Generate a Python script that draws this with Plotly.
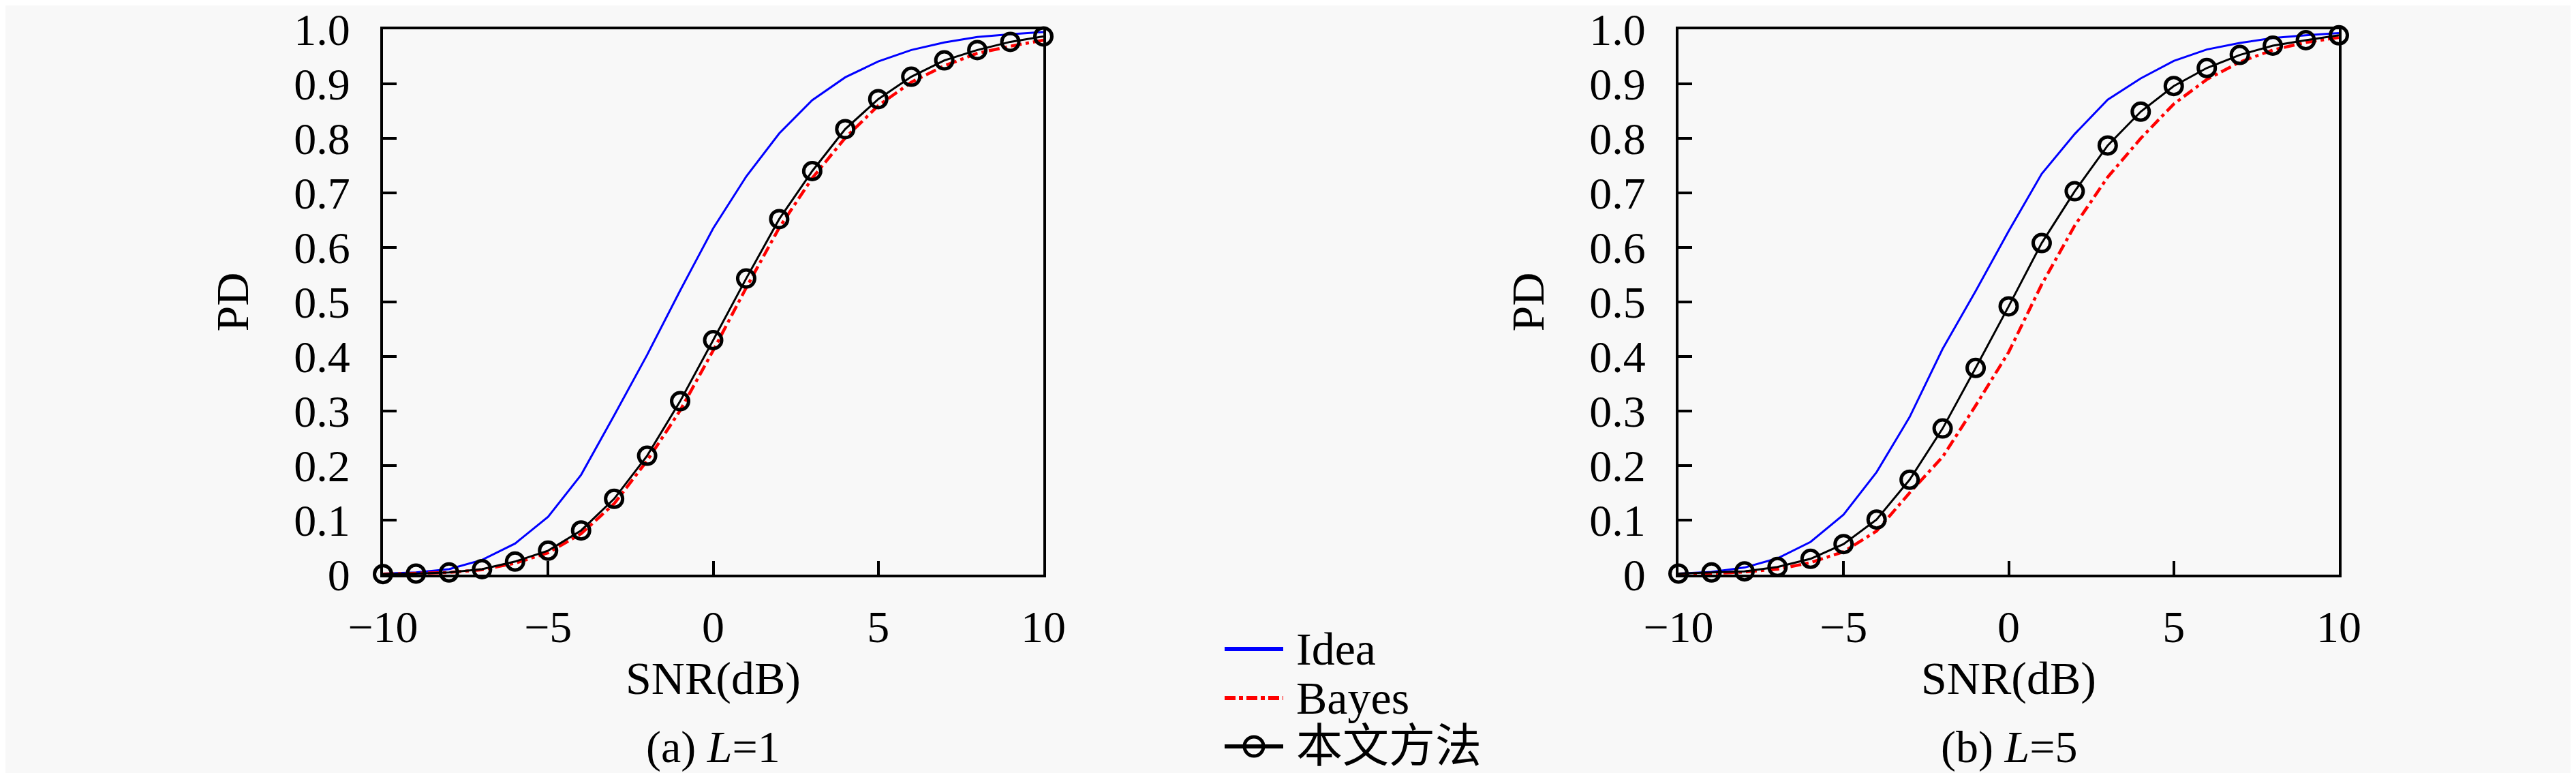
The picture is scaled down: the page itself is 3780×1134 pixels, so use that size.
import plotly.graph_objects as go

# SNR (dB) grid shared by both panels
snr = [-10, -9, -8, -7, -6, -5, -4, -3, -2, -1, 0, 1, 2, 3, 4, 5, 6, 7, 8, 9, 10]

# (a) L=1
idea_l1 = [0.002, 0.004, 0.010, 0.027, 0.057, 0.106, 0.183, 0.292, 0.403, 0.521, 0.635, 0.730, 0.809, 0.870, 0.912, 0.941, 0.962, 0.976, 0.986, 0.991, 0.995]
bayes_l1 = [0.001, 0.002, 0.004, 0.009, 0.021, 0.040, 0.075, 0.130, 0.209, 0.301, 0.411, 0.526, 0.636, 0.727, 0.801, 0.860, 0.903, 0.933, 0.956, 0.969, 0.980]
prop_l1 = [0.001, 0.002, 0.004, 0.010, 0.024, 0.044, 0.081, 0.139, 0.218, 0.318, 0.430, 0.543, 0.652, 0.740, 0.817, 0.872, 0.913, 0.943, 0.962, 0.977, 0.987]

# (b) L=5
idea_l5 = [0.002, 0.005, 0.013, 0.030, 0.060, 0.110, 0.188, 0.289, 0.414, 0.520, 0.630, 0.735, 0.808, 0.871, 0.910, 0.942, 0.963, 0.975, 0.984, 0.989, 0.993]
bayes_l5 = [0.001, 0.002, 0.005, 0.010, 0.022, 0.042, 0.080, 0.150, 0.216, 0.310, 0.408, 0.532, 0.640, 0.729, 0.800, 0.863, 0.908, 0.940, 0.962, 0.976, 0.985]
prop_l5 = [0.002, 0.004, 0.006, 0.014, 0.029, 0.056, 0.101, 0.174, 0.268, 0.379, 0.492, 0.608, 0.703, 0.787, 0.849, 0.896, 0.929, 0.953, 0.970, 0.980, 0.989]

names = ["Idea", "Bayes", "本文方法"]
captions = ["(a) <i>L</i>=1", "(b) <i>L</i>=5"]
x_ticks = [-10, -5, 0, 5, 10]
y_ticks = [0, 0.1, 0.2, 0.3, 0.4, 0.5, 0.6, 0.7, 0.8, 0.9, 1.0]
y_ticktext = ["0", "0.1", "0.2", "0.3", "0.4", "0.5", "0.6", "0.7", "0.8", "0.9", "1.0"]

W, H = 3780, 1134
OFFX, OFFY = 8, 0  # the page body adds a small margin on the left
FONT = "Liberation Serif, Noto Sans CJK SC, serif"
BG = "#f8f8f8"


def px(x):
    return (x - OFFX) / W


def py(y):
    return (H - (y - OFFY)) / H


fig = go.Figure()

panels = [(idea_l1, bayes_l1, prop_l1, "x", "y"), (idea_l5, bayes_l5, prop_l5, "x2", "y2")]
for idea, bayes, prop, xa, ya in panels:
    fig.add_trace(go.Scatter(x=snr, y=idea, mode="lines", name=names[0], xaxis=xa, yaxis=ya,
                             line=dict(color="#0000ff", width=3), showlegend=False))
    fig.add_trace(go.Scatter(x=snr, y=bayes, mode="lines", name=names[1], xaxis=xa, yaxis=ya,
                             line=dict(color="#ff0000", width=4.5, dash="16px,6px,5px,6px"), showlegend=False))
    fig.add_trace(go.Scatter(x=snr, y=prop, mode="lines+markers", name=names[2], xaxis=xa, yaxis=ya,
                             line=dict(color="black", width=3), cliponaxis=False,
                             marker=dict(symbol="circle-open", size=25, color="black", line=dict(width=5)),
                             showlegend=False))

xaxis_style = dict(range=[-10, 10], tickvals=x_ticks, ticks="inside", ticklen=20, tickwidth=4,
                   tickcolor="black", showline=True, linewidth=4, linecolor="black", mirror=True,
                   showgrid=False, zeroline=False, ticklabelstandoff=16, automargin=False,
                   ticklabeloverflow="allow",
                   tickfont=dict(family=FONT, size=66, color="black"),
                   title=dict(text="SNR(dB)", font=dict(family=FONT, size=68, color="black"), standoff=16))
yaxis_style = dict(range=[0, 1], tickvals=y_ticks, ticktext=y_ticktext, ticks="inside", ticklen=20,
                   tickwidth=4, tickcolor="black", showline=True, linewidth=4, linecolor="black",
                   mirror=True, showgrid=False, zeroline=False, ticklabelstandoff=31, automargin=False,
                   ticklabeloverflow="allow",
                   tickfont=dict(family=FONT, size=66, color="black"),
                   title=dict(text="PD", font=dict(family=FONT, size=68, color="black"), standoff=45))

dom_y = [py(835), py(35)]
dom_x1 = [px(562), px(1531)]
dom_x2 = [px(2463), px(3432)]

fig.update_layout(
    width=W, height=H, autosize=False,
    margin=dict(l=0, r=0, t=0, b=0, autoexpand=False),
    paper_bgcolor=BG, plot_bgcolor=BG,
    font=dict(family=FONT, color="black"),
    showlegend=False,
    xaxis=dict(domain=dom_x1, anchor="y", **xaxis_style),
    yaxis=dict(domain=dom_y, anchor="x", **yaxis_style),
    xaxis2=dict(domain=dom_x2, anchor="y2", **xaxis_style),
    yaxis2=dict(domain=dom_y, anchor="x2", **yaxis_style),
)

# sub-figure captions
for dom, cap in zip([dom_x1, dom_x2], captions):
    fig.add_annotation(x=(dom[0] + dom[1]) / 2, y=py(1088), xref="paper", yref="paper",
                       text=cap, showarrow=False, xanchor="center", yanchor="middle",
                       font=dict(family=FONT, size=66, color="black"))

# legend in the bottom middle (drawn by hand so the samples are long)
leg_rows = [py(944), py(1016), py(1087)]
lx0, lx1, ltext = px(1797), px(1883), px(1900)
fig.add_shape(type="line", xref="paper", yref="paper", x0=lx0, x1=lx1, y0=leg_rows[0], y1=leg_rows[0],
              line=dict(color="#0000ff", width=6))
fig.add_shape(type="line", xref="paper", yref="paper", x0=lx0, x1=lx1, y0=leg_rows[1], y1=leg_rows[1],
              line=dict(color="#ff0000", width=6, dash="16px,5px,6px,5px"))
fig.add_shape(type="line", xref="paper", yref="paper", x0=lx0, x1=lx1, y0=leg_rows[2], y1=leg_rows[2],
              line=dict(color="black", width=6))
fig.add_shape(type="circle", xref="paper", yref="paper", xsizemode="pixel", ysizemode="pixel",
              xanchor=(lx0 + lx1) / 2, yanchor=leg_rows[2], x0=-14, x1=14, y0=-14, y1=14,
              line=dict(color="black", width=5), fillcolor="rgba(0,0,0,0)")
for row, name in zip(leg_rows, names):
    fig.add_annotation(x=ltext, y=row, xref="paper", yref="paper", text=name, showarrow=False,
                       xanchor="left", yanchor="middle", font=dict(family=FONT, size=68, color="black"))

fig.write_html("out.html")
